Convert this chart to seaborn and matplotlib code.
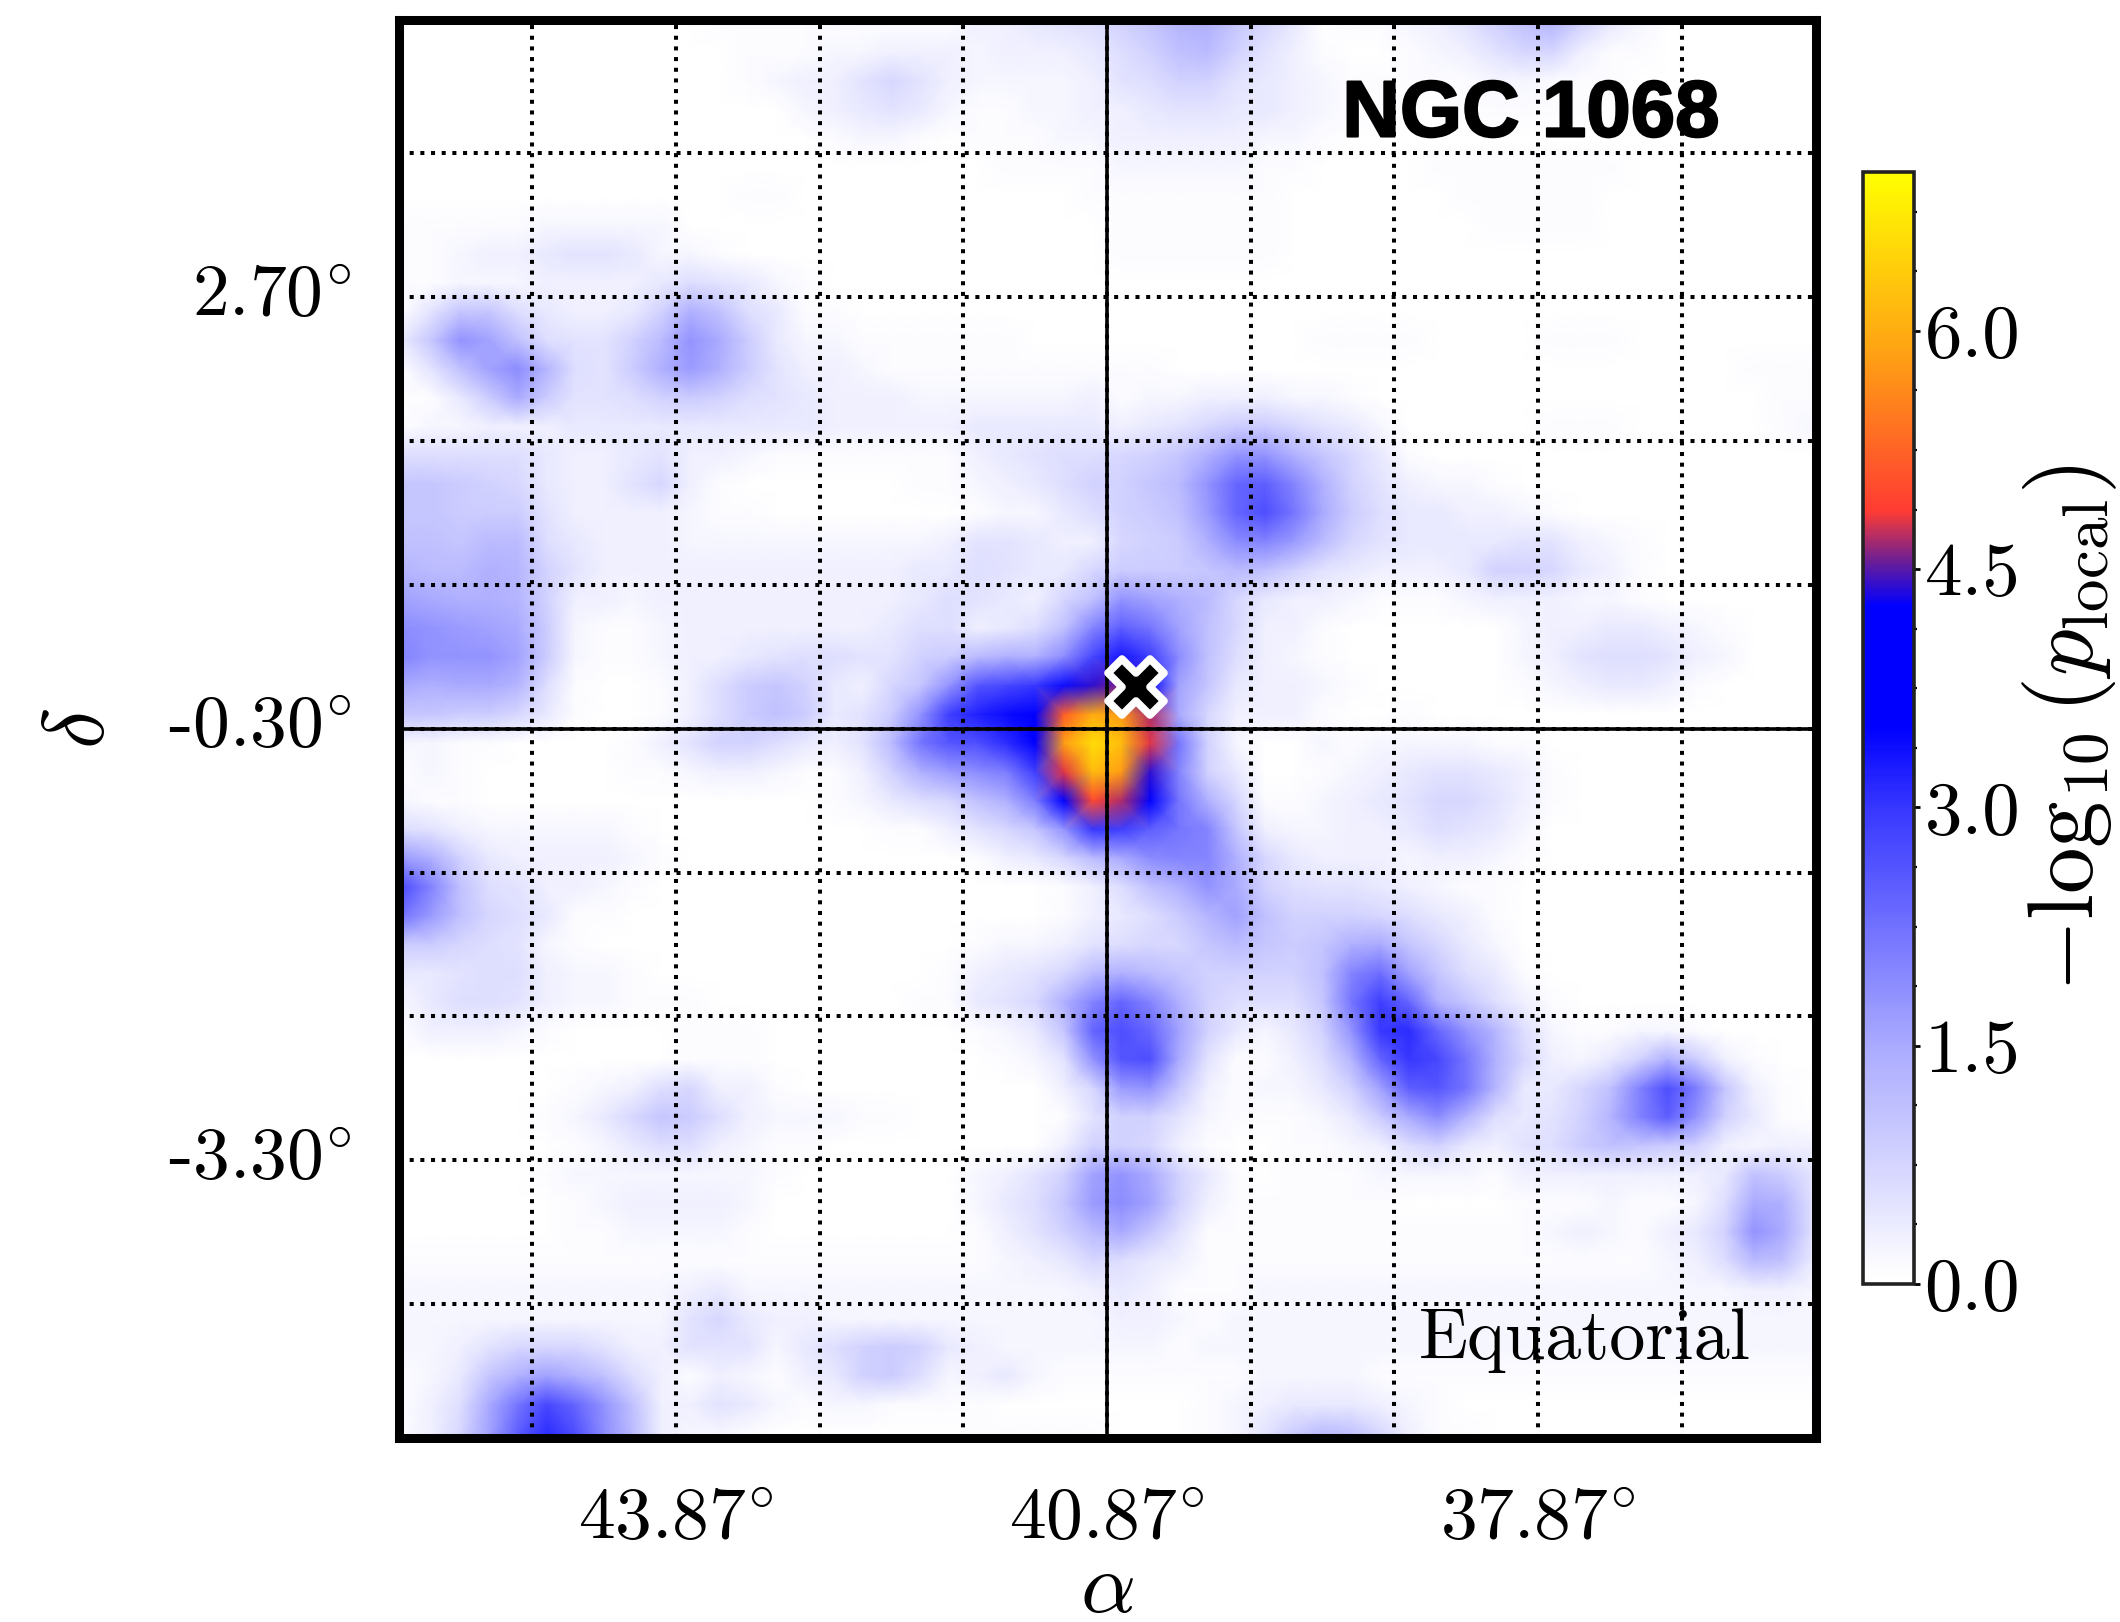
import matplotlib
matplotlib.use("Agg")
import matplotlib.patheffects as pe
import matplotlib.pyplot as plt
import numpy as np
import seaborn as sns
from matplotlib.colors import LinearSegmentedColormap
from matplotlib.markers import MarkerStyle

# -log10(p_local) in tenths, every 0.2 deg
# rows run from dec 4.60 down to -5.20, columns from ra 45.77 down to 35.97
P_TENTHS = [
    [0,0,0,0,0,0,0,0,0,0, 0,1,1,1,1,1,1,1,1,1, 3,3,4,5,6,8,10,13,14,10, 7,4,0,1,1,2,3,5,8,11, 13,8,4,2,0,0,0,0,0,0],
    [0,0,0,0,0,0,0,0,0,0, 0,0,1,1,1,2,2,3,3,3, 2,3,3,3,4,6,8,11,12,8, 5,3,1,0,0,1,2,3,5,7, 7,3,1,1,0,0,0,0,0,0],
    [0,0,0,0,0,0,0,0,0,0, 0,0,1,2,3,3,5,7,5,3, 2,2,2,2,3,5,6,8,8,5, 4,3,2,1,1,1,1,1,2,2, 1,1,1,0,0,0,0,0,0,0],
    [0,0,0,0,0,0,0,0,0,0, 0,0,0,0,2,3,4,5,4,2, 1,1,2,2,3,3,4,5,5,4, 4,3,2,1,1,0,0,1,1,1, 1,1,0,0,0,0,0,0,0,0],
    [0,0,0,0,0,0,0,0,0,0, 0,0,0,0,0,1,2,2,1,0, 1,1,1,2,2,3,3,3,3,3, 2,2,1,0,0,0,0,0,0,0, 0,0,0,0,0,0,0,0,0,0],
    [0,0,0,0,0,0,0,0,0,0, 0,0,0,0,0,0,0,0,0,0, 0,1,1,1,1,2,2,2,2,2, 1,1,0,0,0,0,1,1,1,1, 1,1,1,0,0,0,0,0,0,0],
    [0,0,0,0,0,0,0,0,0,0, 0,0,1,1,0,0,0,0,0,0, 0,0,0,0,1,1,1,1,1,1, 1,0,0,0,0,0,0,1,1,1, 1,1,0,0,0,0,0,0,0,0],
    [1,1,1,1,1,2,2,2,2,2, 0,0,0,0,0,0,0,0,0,0, 0,0,0,0,0,1,1,1,1,1, 1,0,0,0,0,0,0,0,1,1, 1,1,0,0,0,0,0,0,0,0],
    [1,1,2,3,3,4,5,5,4,2, 2,1,0,0,0,0,0,0,0,0, 0,0,0,0,0,1,1,1,1,1, 1,0,0,0,0,0,0,0,0,0, 0,0,0,0,0,0,0,0,0,0],
    [1,1,2,2,2,3,3,3,3,4, 6,5,4,2,1,0,0,0,0,0, 0,0,0,0,0,0,0,0,0,0, 0,0,0,0,0,0,0,0,0,0, 0,0,0,0,0,0,0,0,0,0],
    [1,5,10,10,6,4,3,3,4,8, 14,11,6,4,1,1,0,0,0,0, 0,0,0,0,0,0,0,0,0,0, 0,0,0,0,0,0,0,0,0,0, 0,0,0,0,0,0,0,0,0,0],
    [4,10,18,16,11,6,5,5,8,12, 18,15,9,4,2,2,1,1,1,1, 1,1,0,0,0,0,0,0,0,0, 0,0,1,1,1,1,0,0,0,0, 1,1,1,0,0,0,0,0,0,0],
    [1,5,11,16,19,13,6,5,9,14, 17,14,9,5,3,3,2,1,1,1, 1,1,1,1,1,1,1,0,0,0, 0,0,0,0,0,0,0,0,0,0, 0,0,0,0,0,0,0,1,1,1],
    [0,1,4,9,15,9,5,5,6,8, 9,8,6,5,4,3,3,3,2,2, 2,2,2,2,3,1,2,2,3,3, 3,2,2,1,0,0,0,0,0,0, 0,0,0,0,0,0,0,0,1,1],
    [1,2,2,3,3,3,4,4,4,4, 4,4,4,4,4,3,3,3,3,3, 4,4,4,4,4,3,4,5,7,9, 9,7,5,4,2,0,0,0,0,0, 1,1,1,0,0,0,0,0,1,2],
    [6,6,6,6,6,4,3,3,4,5, 3,3,2,1,1,1,1,1,1,1, 3,4,5,6,6,7,8,10,14,18, 18,14,10,7,4,1,0,0,0,0, 0,0,0,0,0,0,0,0,0,0],
    [10,10,9,8,7,4,3,3,5,7, 3,1,0,0,0,0,0,0,1,1, 2,3,4,6,8,8,10,12,18,24, 25,20,14,8,5,3,2,2,1,0, 0,0,0,0,0,0,0,0,0,0],
    [10,10,9,9,9,5,3,3,3,3, 2,1,1,0,0,0,0,0,0,0, 1,2,2,4,6,8,9,11,17,24, 27,22,15,9,6,4,4,3,3,2, 1,0,0,0,0,0,0,0,0,0],
    [11,11,10,12,12,6,4,3,3,3, 2,2,2,2,2,2,2,2,2,3, 5,5,4,3,3,7,8,9,14,19, 20,17,12,7,5,4,4,4,4,5, 5,3,2,1,0,0,0,0,0,0],
    [13,12,12,14,13,8,5,3,3,3, 3,3,3,3,3,3,3,3,4,4, 6,5,4,4,7,9,9,9,10,12, 11,8,5,4,3,3,3,4,8,8, 7,4,3,1,0,0,0,0,0,0],
    [16,15,14,14,13,8,3,3,2,3, 3,3,3,3,3,3,3,3,4,6, 5,4,3,7,11,18,16,14,12,7, 4,3,3,2,1,1,1,2,3,3, 3,2,2,1,0,0,0,0,0,0],
    [19,18,17,16,15,9,2,1,1,2, 3,3,3,3,3,3,3,4,6,6, 3,4,6,11,20,25,22,16,11,7, 3,3,1,0,0,0,0,0,0,2, 3,3,4,4,3,2,1,0,0,0],
    [20,18,18,18,16,9,2,1,1,2, 3,3,4,5,6,6,5,5,8,9, 12,14,14,19,28,33,29,19,11,6, 3,2,1,0,0,0,0,0,0,2, 3,5,6,6,5,3,2,0,0,0],
    [15,14,15,15,13,6,1,0,0,1, 3,6,9,10,8,4,3,7,10,18, 26,28,30,34,44,46,36,16,10,4, 3,3,2,1,0,0,0,0,0,1, 2,3,4,4,3,1,0,0,0,0],
    [10,10,9,9,7,4,1,0,0,1, 3,6,9,11,9,4,5,9,18,29, 32,34,38,52,60,58,47,15,7,3, 3,3,1,0,0,1,0,0,0,0, 0,0,0,0,0,0,0,0,0,0],
    [2,2,1,1,0,0,0,0,1,3, 5,8,8,6,4,3,5,12,22,26, 27,31,37,58,66,62,48,22,8,2, 0,0,2,1,2,2,2,2,1,1, 0,0,0,0,0,0,0,0,0,0],
    [1,2,1,0,0,0,0,0,1,1, 2,3,3,2,1,1,3,8,14,17, 19,21,29,48,62,58,44,20,8,4, 0,0,1,2,3,4,5,5,4,3, 1,0,0,0,0,0,0,0,0,0],
    [2,1,1,0,0,0,0,0,0,0, 0,0,0,0,0,1,2,4,6,7, 11,14,21,38,50,47,35,22,14,7, 1,1,2,3,4,5,7,7,5,3, 1,0,0,0,0,0,0,0,0,0],
    [6,5,3,2,2,2,2,2,1,0, 0,0,0,0,0,0,0,1,1,3, 5,7,10,18,30,29,25,22,20,10, 3,2,2,3,3,4,6,5,4,2, 0,0,0,0,0,0,0,0,0,0],
    [17,14,8,4,3,3,3,3,2,1, 0,0,0,0,0,0,0,0,0,0, 1,3,4,7,12,15,19,20,20,14, 7,4,3,3,3,2,3,3,2,1, 0,0,0,0,0,0,0,0,0,0],
    [27,20,11,6,5,3,3,2,1,0, 0,0,0,0,0,0,0,0,0,0, 0,0,0,1,3,6,11,14,18,15, 8,6,5,5,4,3,2,1,1,0, 0,0,0,0,0,0,0,0,0,0],
    [22,17,11,7,6,4,1,1,0,0, 0,0,0,0,0,0,0,0,0,0, 0,0,0,1,3,4,6,9,13,16, 11,8,8,8,7,6,4,3,1,0, 0,0,0,0,0,0,0,0,0,0],
    [9,9,7,6,5,2,1,0,0,0, 0,0,0,0,0,0,0,0,0,0, 1,2,2,3,5,6,7,7,10,12, 10,9,10,14,15,10,7,4,2,0, 0,0,0,0,0,0,0,0,0,0],
    [4,4,5,6,6,3,2,2,1,0, 0,0,0,0,0,0,0,0,0,1, 3,4,5,7,12,14,12,10,8,8, 8,8,11,20,23,16,10,6,4,1, 0,0,0,0,0,0,0,0,0,0],
    [2,4,6,6,5,3,2,2,1,1, 1,0,0,0,0,0,0,0,1,1, 4,5,7,14,20,24,20,14,8,6, 6,6,10,22,29,24,14,10,6,3, 1,0,0,0,0,0,0,0,0,0],
    [1,3,3,3,2,1,0,0,0,0, 1,1,1,0,0,0,0,0,0,0, 1,2,4,10,24,27,24,16,8,4, 2,4,8,18,30,31,24,18,13,6, 2,1,1,2,2,1,0,0,0,0],
    [0,0,0,0,0,0,0,0,0,0, 1,1,1,0,0,0,0,0,0,0, 0,1,2,5,18,26,27,15,5,1, 1,3,6,13,24,30,28,22,14,7, 3,2,4,8,14,9,3,1,0,0],
    [0,0,0,0,0,0,1,2,3,6, 7,3,3,1,0,0,0,0,0,0, 0,0,0,3,7,17,18,10,3,1, 2,2,4,8,16,25,26,22,13,4, 4,7,11,20,27,21,10,3,1,0],
    [0,0,0,0,0,1,2,4,7,10, 9,6,3,2,2,2,1,1,0,0, 0,0,0,1,5,8,8,5,2,1, 1,1,2,4,9,15,19,13,6,4, 5,8,13,20,25,18,8,4,1,0],
    [0,0,0,0,0,0,1,2,4,6, 6,3,2,1,1,0,0,0,0,0, 0,0,0,3,8,8,7,3,1,0, 0,1,1,2,3,6,8,4,3,5, 6,9,11,10,9,8,3,2,3,3],
    [0,0,0,0,0,1,2,2,2,2, 2,2,2,1,0,0,0,0,0,0, 2,3,5,8,16,18,15,8,4,1, 0,1,1,1,2,2,2,2,1,3, 3,3,3,3,3,3,4,11,9,5],
    [0,0,0,0,0,0,1,2,3,3, 3,3,2,0,0,0,0,0,0,0, 2,4,6,10,17,19,16,8,3,1, 1,1,1,1,1,0,0,0,0,1, 1,1,2,1,1,2,6,15,14,6],
    [0,0,0,0,0,0,1,1,2,2, 2,2,1,0,0,0,0,0,0,0, 1,3,5,8,12,15,10,5,1,1, 1,1,1,1,1,1,1,1,1,1, 2,3,2,1,3,4,8,18,15,6],
    [1,1,1,1,1,1,1,1,1,1, 1,1,1,1,1,1,1,1,1,1, 1,2,3,4,7,6,4,3,1,1, 1,1,1,1,1,1,1,1,1,1, 1,1,1,1,2,3,6,12,11,4],
    [2,2,2,2,2,2,2,2,2,2, 3,4,2,2,2,2,2,2,2,2, 2,2,2,2,3,4,3,1,1,1, 2,2,2,2,2,2,2,2,2,2, 2,2,2,2,2,2,2,3,3,2],
    [2,2,2,2,2,2,2,2,2,2, 5,7,4,3,3,2,2,2,2,2, 2,2,2,2,2,3,3,2,1,2, 2,2,2,2,2,2,2,2,2,2, 2,2,2,2,2,2,2,2,2,2],
    [2,2,3,5,7,7,7,5,3,3, 5,5,5,2,4,6,8,9,8,4, 3,2,2,2,2,2,2,1,2,2, 2,2,2,2,2,2,2,2,2,2, 2,2,2,2,2,2,2,2,2,2],
    [1,2,4,10,14,16,14,11,6,3, 1,3,2,1,3,4,8,9,6,2, 3,4,2,1,1,1,1,1,1,1, 2,2,2,2,1,1,1,1,1,1, 1,1,1,1,1,1,1,1,1,1],
    [1,3,6,15,22,28,24,18,11,3, 3,5,4,2,1,2,2,1,1,1, 1,0,0,0,0,0,0,0,1,2, 3,4,4,4,3,2,1,0,0,0, 0,0,0,0,0,0,0,0,0,0],
    [1,3,7,16,25,31,27,19,12,3, 2,2,1,0,0,0,0,0,0,0, 1,1,1,1,1,0,0,0,1,2, 5,9,12,11,7,3,1,1,0,0, 0,0,0,0,0,0,0,0,0,0],
]

RA_LEFT = 45.77
DEC_TOP = 4.60
STEP = 0.2

RA_GRID = [44.87, 43.87, 42.87, 41.87, 39.87, 38.87, 37.87, 36.87]
DEC_GRID = [3.70, 2.70, 1.70, 0.70, -1.30, -2.30, -3.30, -4.30]
RA_CENTER = 40.87
DEC_CENTER = -0.30
RA_LABELS = {43.87: r"43.87$^{\circ}$", 40.87: r"40.87$^{\circ}$", 37.87: r"37.87$^{\circ}$"}
DEC_LABELS = {2.70: r"2.70$^{\circ}$", -0.30: r"-0.30$^{\circ}$", -3.30: r"-3.30$^{\circ}$"}
SOURCE_RA = 40.67
SOURCE_DEC = -0.013

CB_TICKS = [0.0, 1.5, 3.0, 4.5, 6.0]
CB_MINOR = [0.375, 0.75, 1.125, 1.875, 2.25, 2.625, 3.375, 3.75, 4.125, 4.875,
            5.25, 5.625, 6.375, 6.75]
CB_LEVELS = [0.0, 0.12, 0.5, 1.0, 1.5, 3.0, 3.5, 4.27, 4.55, 4.87, 5.85, 7.0]
CB_COLORS = ["#ffffff", "#fbfbff", "#e3e3ff", "#c6c6ff", "#aaaaff", "#3737ff",
             "#0000ff", "#0000ff", "#6a1e96", "#ff3c32", "#ffa014", "#ffff00"]

W, H = 2120, 1622
CM_FONT = ["cmr10", "DejaVu Serif"]


def ra_pos(ra):
    return (RA_LEFT - ra) / STEP


def dec_pos(dec):
    return (DEC_TOP - dec) / STEP


def px_axes(x0, y0, x1, y1):
    return [x0 / W, 1 - y1 / H, (x1 - x0) / W, (y1 - y0) / H]


sns.set_theme(style="white")
plt.rcParams["mathtext.fontset"] = "cm"
plt.rcParams["axes.unicode_minus"] = False

values = np.array(P_TENTHS) / 10
nrows, ncols = values.shape

cmap = LinearSegmentedColormap.from_list(
    "plocal", [(lev / 7.0, col) for lev, col in zip(CB_LEVELS, CB_COLORS)], N=512
)

fig = plt.figure(figsize=(W / 100, H / 100), dpi=100, facecolor="white")
ax = fig.add_axes(px_axes(398.5, 19.5, 1815.5, 1438))
cax = fig.add_axes(px_axes(1863, 172, 1914, 1284))

sns.heatmap(
    values, ax=ax, cbar_ax=cax, cmap=cmap, vmin=0, vmax=7,
    xticklabels=False, yticklabels=False, shading="gouraud",
    cbar_kws={"ticks": CB_TICKS},
)
ax.set_xlim(-0.15, ncols - 1 + 0.15)
ax.set_ylim(nrows - 1 + 0.15, -0.15)

# gridlines every degree, labels only every third
xpos = [ra_pos(v) for v in RA_GRID + [RA_CENTER]]
ypos = [dec_pos(v) for v in DEC_GRID + [DEC_CENTER]]
ax.set_xticks(xpos, [RA_LABELS.get(v, "") for v in RA_GRID + [RA_CENTER]],
              family="cmr10", size=53, rotation=0)
ax.set_yticks(ypos, [DEC_LABELS.get(v, "") for v in DEC_GRID + [DEC_CENTER]],
              family="cmr10", size=53, rotation=0, va="center")
ax.tick_params(axis="both", length=0, labelcolor="black")
ax.tick_params(axis="x", pad=36)
ax.tick_params(axis="y", pad=34)
ax.grid(True, color="black", linestyle=":", linewidth=2.9)
ax.set_axisbelow(False)
ax.axvline(ra_pos(RA_CENTER), color="black", lw=2.6, zorder=4)
ax.axhline(dec_pos(DEC_CENTER), color="black", lw=2.6, zorder=4)

ax.plot(
    ra_pos(SOURCE_RA), dec_pos(SOURCE_DEC),
    marker=MarkerStyle("X", joinstyle="round"), ms=40, color="black",
    mec="white", mew=5.5, zorder=6, linestyle="none",
)

for side in ax.spines.values():
    side.set_visible(True)
    side.set_color("black")
    side.set_linewidth(6.5)

ax.set_xlabel(r"$\alpha$", fontsize=62, labelpad=-4, color="black")
ax.set_ylabel(r"$\delta$", fontsize=62, labelpad=33, color="black")

fig.text(1531 / W, 1 - 116 / H, "NGC 1068", family="Liberation Sans",
         weight="bold", size=57.5, ha="center", va="center", color="black",
         path_effects=[pe.withStroke(linewidth=1.5, foreground="black")])
fig.text(1419 / W, 1 - 1359 / H, "Equatorial", family=CM_FONT, size=52,
         ha="left", va="baseline", color="black")

cbar = ax.collections[0].colorbar
cbar.outline.set_visible(True)
cbar.outline.set_linewidth(2.6)
cbar.outline.set_edgecolor("#222222")
cax.set_yticks(CB_MINOR, minor=True)
cax.set_yticklabels(["%.1f" % t for t in CB_TICKS], family=CM_FONT, size=54)
cax.tick_params(axis="y", which="major", right=True, length=4.5, width=2,
                color="black", pad=3, labelcolor="black")
cax.tick_params(axis="y", which="minor", right=True, length=2.5, width=1.6,
                color="black")
cbar.set_label(r"$-\log_{10}(p_{\rm local})$", fontsize=67, labelpad=0,
               color="black")

fig.savefig("out.png", dpi=100, facecolor="white")
